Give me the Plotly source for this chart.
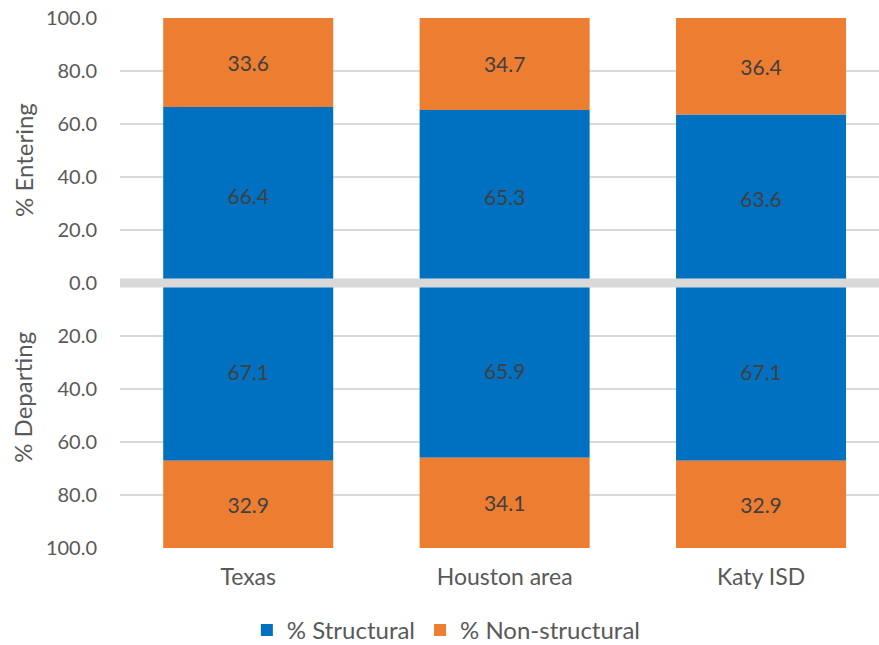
import plotly.graph_objects as go

categories = ["Texas", "Houston area", "Katy ISD"]
entering_structural = [66.4, 65.3, 63.6]
entering_nonstructural = [33.6, 34.7, 36.4]
departing_structural = [67.1, 65.9, 67.1]
departing_nonstructural = [32.9, 34.1, 32.9]
tick_values = [-100, -80, -60, -40, -20, 0, 20, 40, 60, 80, 100]
tick_labels = [f"{abs(v):.1f}" for v in tick_values]

BLUE = "#0070C0"
ORANGE = "#ED7D31"
FONT = "Lato"
LABEL_COLOR = "#404040"
TICK_COLOR = "#595959"

fig = go.Figure()

def add(vals, name, color, show, sign):
    fig.add_trace(go.Bar(
        x=categories, y=[sign * v for v in vals], name=name,
        marker=dict(color=color, line=dict(width=0)),
        text=[f"{v:.1f}" for v in vals], textposition="inside",
        insidetextanchor="middle", textangle=0,
        textfont=dict(family=FONT, size=21, color=LABEL_COLOR),
        legendgroup=name, showlegend=show, width=0.663,
        hoverinfo="skip",
    ))

add(entering_structural, "% Structural", BLUE, True, 1)
add(entering_nonstructural, "% Non-structural", ORANGE, True, 1)
add(departing_structural, "% Structural", BLUE, False, -1)
add(departing_nonstructural, "% Non-structural", ORANGE, False, -1)

fig.add_shape(type="line", xref="paper", yref="y", x0=0, x1=1, y0=0, y1=0,
              line=dict(color="#D9D9D9", width=9), layer="above")

fig.update_layout(
    barmode="relative",
    width=879, height=645,
    margin=dict(l=120, r=0, t=18, b=97, autoexpand=False),
    plot_bgcolor="white", paper_bgcolor="white",
    font=dict(family=FONT, size=20, color=TICK_COLOR),
    uniformtext=dict(mode="show", minsize=10),
    showlegend=True,
    legend=dict(orientation="h", x=0.43, xanchor="center", y=-0.198, yanchor="bottom",
                font=dict(family=FONT, size=24, color=TICK_COLOR),
                bgcolor="rgba(0,0,0,0)",
                traceorder="normal", itemwidth=30),
    xaxis=dict(range=[-0.5, 2.46], showgrid=False, zeroline=False, automargin=False,
               showline=False, ticks="", ticklabelstandoff=13,
               tickfont=dict(family=FONT, size=23, color=TICK_COLOR)),
    yaxis=dict(range=[-100, 100], tickvals=tick_values, ticktext=tick_labels,
               showgrid=True, gridcolor="#D9D9D9", gridwidth=1.5, automargin=False,
               zeroline=False, showline=False, ticks="",
               ticklabelstandoff=22, ticklabeloverflow="allow",
               tickfont=dict(family=FONT, size=20, color=TICK_COLOR)),
    annotations=[
        dict(text="% Entering", xref="paper", yref="paper", x=-0.128, y=0.732,
             xanchor="center", yanchor="middle", textangle=-90, showarrow=False,
             font=dict(family=FONT, size=24, color=TICK_COLOR)),
        dict(text="% Departing", xref="paper", yref="paper", x=-0.128, y=0.285,
             xanchor="center", yanchor="middle", textangle=-90, showarrow=False,
             font=dict(family=FONT, size=24, color=TICK_COLOR)),
    ],
)

fig.write_html("out.html",
               config={"displayModeBar": False, "staticPlot": True},
               post_script="document.body.style.margin='0';document.body.style.overflow='hidden';")
